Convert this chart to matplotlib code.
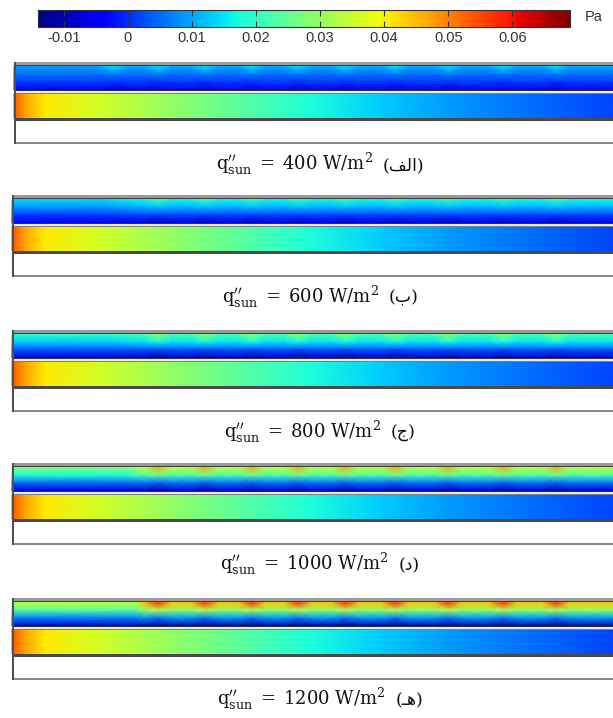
import numpy as np
import matplotlib
matplotlib.use("Agg")
import matplotlib.pyplot as plt
from matplotlib.colors import Normalize
from matplotlib.cm import ScalarMappable
from matplotlib.patches import Rectangle

plt.rcParams['mathtext.fontset'] = 'dejavuserif'

# ---------------- data ----------------
flux = [400, 600, 800, 1000, 1200]
labels_fa = ['\uFED2\uFEDF\uFE8D', '\uFE8F', '\uFE9D', '\uFEA9', '\u0640\uFEEB']  # visual order of الف, ب, ج, د, هـ

cbar_ticks = [-0.01, 0, 0.01, 0.02, 0.03, 0.04, 0.05, 0.06]
cbar_ticklabels = ['-0.01', '0', '0.01', '0.02', '0.03', '0.04', '0.05', '0.06']
vmin, vmax = -0.014, 0.069

# upper channel: pressure (Pa) from top to bottom of the strip, per panel
upper_left = [[0.009, 0.006, 0.001, -0.004],
              [0.014, 0.009, 0.001, -0.006],
              [0.020, 0.013, 0.003, -0.007],
              [0.028, 0.019, 0.005, -0.008],
              [0.034, 0.024, 0.007, -0.009]]
upper_base = [[0.010, 0.006, 0.001, -0.005],
              [0.017, 0.011, 0.002, -0.007],
              [0.023, 0.015, 0.003, -0.008],
              [0.035, 0.023, 0.006, -0.009],
              [0.045, 0.030, 0.009, -0.011]]
upper_bump = [[0.015, 0.007, 0.000, -0.007],
              [0.022, 0.012, 0.001, -0.009],
              [0.030, 0.017, 0.002, -0.011],
              [0.046, 0.026, 0.004, -0.012],
              [0.058, 0.033, 0.006, -0.013]]
left_end = [95, 100, 110, 125, 135]
bump_x = [113, 158, 205, 252, 298, 345, 395, 448, 503, 556]

# lower channel: pressure (Pa) along the channel
lower_x = [12, 25, 45, 100, 170, 240, 310, 380, 450, 520, 613]
lower_vals = [0.054, 0.047, 0.041, 0.036, 0.030, 0.024, 0.018, 0.013, 0.009, 0.006, 0.002]

# ---------------- layout ----------------
W, H = 613, 718
panel_top = [62, 195, 330, 463, 598]
panel_x0 = [14, 12, 12, 12, 12]
caption_y = [167, 300, 435, 567, 702]

cmap = plt.get_cmap('jet')
norm = Normalize(vmin, vmax)

fig = plt.figure(figsize=(W / 100, H / 100), dpi=100)
ax = fig.add_axes([0, 0, 1, 1])
ax.set_xlim(0, W)
ax.set_ylim(H, 0)
ax.axis('off')


def band(x0, y, h, color):
    ax.add_patch(Rectangle((x0, y), W - x0, h, facecolor=color, edgecolor='none', zorder=3))


for i in range(5):
    t = panel_top[i]
    x0 = panel_x0[i]
    # upper strip
    ys = np.linspace(t + 4, t + 28, 4)
    cols = [x0, left_end[i]]
    types = ['l', 'l']
    for b in bump_x:
        if b - 14 <= left_end[i]:
            continue
        cols += [b - 14, b, b + 14]
        types += ['b', 'p', 'b']
    cols.append(W)
    types.append('b')
    prof = {'l': upper_left[i], 'b': upper_base[i], 'p': upper_bump[i]}
    C = np.array([prof[tp] for tp in types]).T
    X, Y = np.meshgrid(cols, ys)
    ax.pcolormesh(X, Y, C, shading='gouraud', cmap=cmap, norm=norm, zorder=2)
    # lower strip
    ys2 = [t + 31.5, t + 55.5]
    X2, Y2 = np.meshgrid([max(x0, v) for v in lower_x], ys2)
    C2 = np.array([lower_vals, lower_vals])
    ax.pcolormesh(X2, Y2, C2, shading='gouraud', cmap=cmap, norm=norm, zorder=2)
    # frame
    band(x0, t, 3, '#9a9a9a')
    band(x0, t + 3, 1, '#404040')
    band(x0, t + 28, 1, '#303030')
    band(x0, t + 29, 1.5, '#e8e8e8')
    band(x0, t + 30.5, 1, '#808080')
    band(x0, t + 55.5, 3, '#4a4a4a')
    band(x0, t + 80, 2, '#8a8a8a')
    ax.add_patch(Rectangle((x0, t), 1.5, 82, facecolor='#505050', edgecolor='none', zorder=4))

# captions
renderer = fig.canvas.get_renderer()
for i in range(5):
    cy = caption_y[i] + 3
    s1 = ('$\\mathrm{q}_{\\mathrm{sun}}^{\\prime\\prime}\\;=\\;\\mathrm{' + str(flux[i])
          + '\\ W/m^{2}}$')
    t1 = ax.text(0, cy, s1, ha='left', va='baseline', fontsize=13,
                 family='DejaVu Serif', color='#111')
    bb1 = t1.get_window_extent(renderer)
    t2 = ax.text(0, cy, '(' + labels_fa[i] + ')', ha='left', va='baseline', fontsize=12.5,
                 family=['DejaVu Serif', 'DejaVu Sans'], color='#111')
    bb2 = t2.get_window_extent(renderer)
    gap = 10
    total = bb1.width + gap + bb2.width
    start = 320 - total / 2
    t1.set_x(start)
    t2.set_x(start + bb1.width + gap)

# colorbar
cax = fig.add_axes([38 / W, 1 - 27 / H, 532 / W, 17 / H])
cb = fig.colorbar(ScalarMappable(norm=norm, cmap=cmap), cax=cax, orientation='horizontal')
cb.set_ticks(cbar_ticks)
cb.set_ticklabels(cbar_ticklabels)
cb.outline.set_edgecolor('#333')
cb.outline.set_linewidth(0.8)
cax.tick_params(direction='in', length=4, width=0.8, top=True, bottom=True, color='#333',
                labelsize=10.5, labelcolor='#333', pad=3)
for lab in cax.get_xticklabels():
    lab.set_family('Liberation Sans')
fig.text(585 / W, 1 - 17 / H, 'Pa', fontsize=10.5, family='Liberation Sans', color='#333', va='center')

fig.savefig('out.png', dpi=100)
